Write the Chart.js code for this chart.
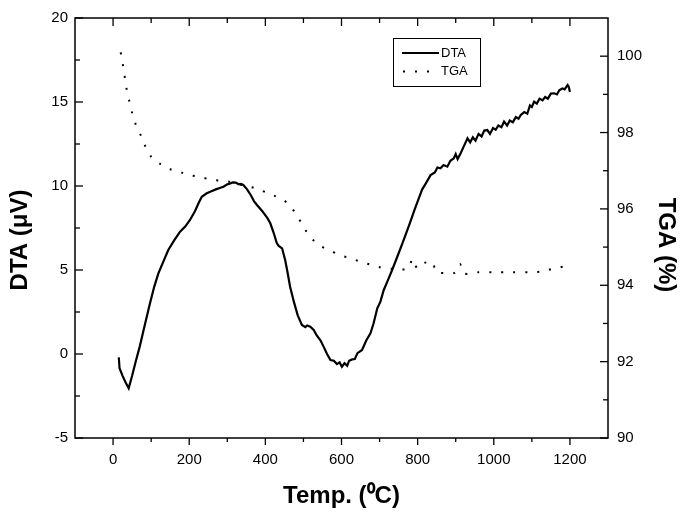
<!DOCTYPE html>
<html>
<head>
<meta charset="utf-8">
<script src="https://cdn.jsdelivr.net/npm/chart.js@4"></script>
<style>
  html, body { margin: 0; padding: 0; background: #fff; }
</style>
</head>
<body>
<canvas id="myChart" width="698" height="528"></canvas>
<script>
// DTA curve (temperature in °C, signal in µV)
const dtaTemp = [15, 17, 25, 33, 41, 50, 60, 70, 83, 97, 108, 119, 132, 145, 160, 176, 190, 202, 215, 225,
  233, 245, 255, 270, 282, 290, 300, 308, 314, 322, 330, 336, 342, 352, 362, 370, 378, 392, 405, 413,
  422, 430, 435, 444, 452, 458, 465, 475, 485, 496, 505, 510, 518, 527, 535, 545, 553, 562, 571, 580,
  588, 595, 601, 608, 615, 620, 628, 635, 642, 654, 665, 676, 684, 694, 702, 711, 722, 733, 745, 760,
  770, 781, 792, 803, 812, 820, 834, 845, 852, 860, 868, 878, 886, 895, 900, 905, 913, 920, 931, 938,
  945, 952, 960, 968, 975, 983, 990, 998, 1005, 1012, 1020, 1027, 1035, 1042, 1050, 1058, 1065, 1071, 1080, 1088,
  1095, 1100, 1106, 1113, 1120, 1128, 1135, 1142, 1150, 1159, 1166, 1172, 1180, 1186, 1194, 1197, 1200];
const dtaVal = [-0.2, -0.85, -1.3, -1.7, -2.04, -1.3, -0.4, 0.44, 1.7, 3.02, 4.0, 4.8, 5.5, 6.19, 6.75, 7.28, 7.6, 7.98, 8.5, 9.0,
  9.36, 9.55, 9.66, 9.8, 9.9, 9.96, 10.1, 10.15, 10.22, 10.2, 10.1, 10.12, 10.06, 9.8, 9.45, 9.1, 8.87, 8.5, 8.1, 7.78,
  7.2, 6.6, 6.43, 6.29, 5.6, 4.9, 4.0, 3.1, 2.3, 1.73, 1.6, 1.7, 1.63, 1.43, 1.1, 0.8, 0.44, 0.0, -0.36, -0.4,
  -0.6, -0.5, -0.76, -0.55, -0.7, -0.4, -0.32, -0.3, 0.05, 0.24, 0.8, 1.23, 1.8, 2.72, 3.1, 3.81, 4.4, 5.0, 5.7, 6.59,
  7.2, 7.88, 8.6, 9.27, 9.8, 10.1, 10.65, 10.8, 11.1, 11.05, 11.25, 11.15, 11.5, 11.65, 11.9, 11.6, 11.95, 12.3, 12.84, 12.6,
  12.9, 12.7, 13.1, 12.95, 13.3, 13.33, 13.1, 13.45, 13.35, 13.6, 13.5, 13.83, 13.6, 13.9, 13.8, 14.1, 14.0, 14.23, 14.4, 14.3,
  14.8, 14.7, 15.02, 14.9, 15.2, 15.1, 15.3, 15.2, 15.5, 15.52, 15.45, 15.7, 15.8, 15.75, 16.01, 15.9, 15.6];

// TGA curve (temperature in °C, mass in %)
const tgaTemp = [20, 22, 25, 30, 35, 42, 50, 60, 75, 85, 100, 125, 150, 180, 205, 235, 260, 300, 350, 370,
  420, 448, 468, 487, 505, 524, 547, 569, 595, 621, 647, 676, 702, 730, 757, 777, 786, 799, 816, 840,
  847, 872, 898, 911, 922, 960, 1000, 1050, 1100, 1125, 1143, 1165, 1190, 1200];
const tgaVal = [100.1, 100.0, 99.83, 99.5, 99.17, 98.85, 98.52, 98.2, 97.88, 97.63, 97.37, 97.17, 97.04, 96.95, 96.88, 96.82, 96.76, 96.72, 96.6, 96.55,
  96.36, 96.23, 96.04, 95.76, 95.45, 95.2, 95.02, 94.91, 94.8, 94.71, 94.63, 94.54, 94.47, 94.43, 94.41, 94.45, 94.69, 94.45, 94.58, 94.6,
  94.36, 94.32, 94.33, 94.56, 94.31, 94.34, 94.34, 94.34, 94.34, 94.36, 94.4, 94.46, 94.5, 94.52];

const tempTicks = [0, 200, 400, 600, 800, 1000, 1200];
const dtaTicks = [-5, 0, 5, 10, 15, 20];
const tgaTicks = [90, 92, 94, 96, 98, 100];

const fontFamily = '"Liberation Sans", Arial, Helvetica, sans-serif';
const titleFont = 'bold 24px ' + fontFamily;

const toPoints = (xs, ys) => xs.map((x, i) => ({ x: x, y: ys[i] }));
const fixTicks = (values) => (scale) => { scale.ticks = values.map((v) => ({ value: v })); };

// frame, inside/outside tick marks, y titles and the legend box
const frameAndLegend = {
  id: 'frameAndLegend',
  afterDatasetsDraw(chart) {
    const { ctx, chartArea: a, scales } = chart;
    ctx.save();
    ctx.strokeStyle = '#000';
    ctx.lineWidth = 1.5;
    ctx.strokeRect(a.left, a.top, a.right - a.left, a.bottom - a.top);

    const line = (x1, y1, x2, y2) => {
      ctx.beginPath();
      ctx.moveTo(x1, y1);
      ctx.lineTo(x2, y2);
      ctx.stroke();
    };
    const minorOf = (ticks, scale) => {
      const step = ticks[1] - ticks[0];
      const out = [];
      for (let v = ticks[0] - step / 2; v <= ticks[ticks.length - 1] + step / 2; v += step) {
        if (v > scale.min && v < scale.max) out.push(v);
      }
      return out;
    };

    ctx.lineWidth = 1.3;
    const xs = scales.x;
    tempTicks.forEach((v) => {
      const p = xs.getPixelForValue(v);
      line(p, a.bottom, p, a.bottom + 7);
      line(p, a.top, p, a.top + 8);
    });
    minorOf(tempTicks, xs).forEach((v) => {
      const p = xs.getPixelForValue(v);
      line(p, a.bottom, p, a.bottom + 4);
      line(p, a.top, p, a.top + 5);
    });

    const yl = scales.y;
    dtaTicks.forEach((v) => {
      const p = yl.getPixelForValue(v);
      line(a.left, p, a.left + 8, p);
    });
    minorOf(dtaTicks, yl).forEach((v) => {
      const p = yl.getPixelForValue(v);
      line(a.left, p, a.left + 5, p);
    });

    const yr = scales.y1;
    tgaTicks.forEach((v) => {
      const p = yr.getPixelForValue(v);
      line(a.right, p, a.right - 8, p);
    });
    minorOf(tgaTicks, yr).forEach((v) => {
      const p = yr.getPixelForValue(v);
      line(a.right, p, a.right - 5, p);
    });

    // y axis titles (sit a bit below the middle of the frame)
    const midY = (a.top + a.bottom) / 2;
    ctx.fillStyle = '#000';
    ctx.font = titleFont;
    ctx.textAlign = 'center';
    ctx.textBaseline = 'middle';
    ctx.save();
    ctx.translate(yl.left + 20, midY + 12);
    ctx.rotate(-Math.PI / 2);
    ctx.fillText('DTA (\u03BCV)', 0, 0);
    ctx.restore();
    ctx.save();
    ctx.translate(yr.right - 32, midY + 17);
    ctx.rotate(Math.PI / 2);
    ctx.fillText('TGA (%)', 0, 0);
    ctx.restore();

    // legend
    const bx = a.left + 318, by = a.top + 20, bw = 87, bh = 48;
    ctx.fillStyle = '#fff';
    ctx.fillRect(bx, by, bw, bh);
    ctx.lineWidth = 1;
    ctx.strokeRect(bx + 0.5, by + 0.5, bw, bh);
    ctx.font = '13px ' + fontFamily;
    ctx.textBaseline = 'middle';
    ctx.textAlign = 'left';
    chart.data.datasets.forEach((ds, i) => {
      const ly = by + 15 + i * 18.5;
      ctx.strokeStyle = ds.borderColor;
      ctx.lineWidth = ds.borderWidth;
      ctx.setLineDash(ds.borderDash || []);
      ctx.lineDashOffset = ds.borderDash ? -1 : 0;
      line(bx + 9, ly, bx + 46, ly);
      ctx.setLineDash([]);
      ctx.fillStyle = '#000';
      ctx.fillText(ds.label, bx + 48, ly);
    });
    ctx.restore();
  }
};

const ctx = document.getElementById('myChart');
new Chart(ctx, {
  type: 'line',
  data: {
    datasets: [
      {
        label: 'DTA',
        data: toPoints(dtaTemp, dtaVal),
        yAxisID: 'y',
        borderColor: '#000',
        borderWidth: 2.2,
        pointRadius: 0,
        tension: 0,
        fill: false,
      },
      {
        label: 'TGA',
        data: toPoints(tgaTemp, tgaVal),
        yAxisID: 'y1',
        borderColor: '#000',
        borderWidth: 2,
        borderDash: [2, 10],
        pointRadius: 0,
        tension: 0.3,
        fill: false,
      },
    ],
  },
  options: {
    responsive: false,
    animation: false,
    devicePixelRatio: 1,
    layout: { padding: { top: 18, left: 0, right: 0, bottom: 0 } },
    plugins: {
      legend: { display: false },
      tooltip: { enabled: false },
    },
    scales: {
      x: {
        type: 'linear',
        position: 'bottom',
        min: -100,
        max: 1300,
        afterBuildTicks: fixTicks(tempTicks),
        afterFit: (scale) => { scale.height = 90; },
        grid: { display: false, drawTicks: false },
        border: { display: false },
        ticks: {
          padding: 13,
          autoSkip: false,
          maxRotation: 0,
          color: '#000',
          font: { family: fontFamily, size: 15 },
          format: { useGrouping: false },
        },
        title: {
          display: true,
          text: 'Temp. (\u2070C)',
          color: '#000',
          font: { family: fontFamily, size: 24, weight: 'bold' },
          padding: { top: 0, bottom: 17 },
        },
      },
      y: {
        type: 'linear',
        position: 'left',
        min: -5,
        max: 20,
        afterBuildTicks: fixTicks(dtaTicks),
        afterFit: (scale) => { scale.width = 75; },
        grid: { display: false, drawTicks: false },
        border: { display: false },
        ticks: {
          padding: 7,
          color: '#000',
          font: { family: fontFamily, size: 15 },
        },
      },
      y1: {
        type: 'linear',
        position: 'right',
        min: 90,
        max: 101,
        afterBuildTicks: fixTicks(tgaTicks),
        afterFit: (scale) => { scale.width = 90; },
        grid: { display: false, drawTicks: false },
        border: { display: false },
        ticks: {
          padding: 9,
          color: '#000',
          font: { family: fontFamily, size: 15 },
        },
      },
    },
  },
  plugins: [frameAndLegend],
});
</script>
</body>
</html>
